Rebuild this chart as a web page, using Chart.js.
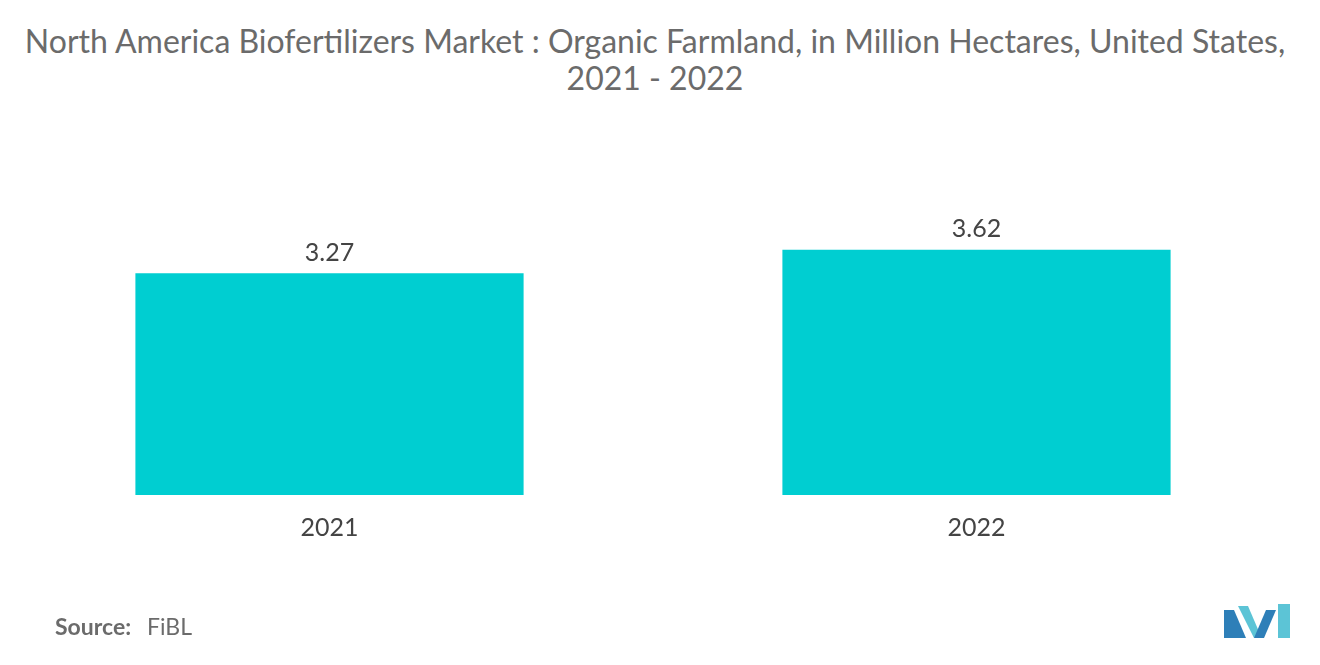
<!DOCTYPE html>
<html>
<head>
<meta charset="utf-8">
<script src="https://cdn.jsdelivr.net/npm/chart.js@4/dist/chart.umd.min.js"></script>
<style>
  body { margin: 0; width: 1320px; height: 665px; background: #fff; font-family: Lato, "Open Sans", sans-serif; overflow: hidden; }
  #title { position: absolute; top: 22px; left: 0; width: 1310px; text-align: center; color: #6b6b6b; font-size: 32px; line-height: 37px; }
  #wrap { position: absolute; left: 0; top: 0; width: 1320px; height: 665px; }
  #source { position: absolute; left: 55px; top: 612px; font-size: 23px; color: #6b6b6b; }
  #source b { font-weight: 700; margin-right: 10px; }
  #logo { position: absolute; left: 1224px; top: 604px; }
</style>
</head>
<body>
<div id="title">North America Biofertilizers Market : Organic Farmland, in Million Hectares, United States,<br>2021 - 2022</div>
<div id="wrap"><canvas id="chart" width="1320" height="665"></canvas></div>
<div id="source"><b>Source:</b> FiBL</div>
<svg id="logo" width="66" height="34" viewBox="0 0 66 34">
  <polygon points="0,34 0,6 10,6 22,34" fill="#2e7fb8"/>
  <polygon points="14,2 24,2 36,30 30,34" fill="#5cc4d6"/>
  <polygon points="30,34 42,6 52,6 40,34" fill="#2e7fb8"/>
  <polygon points="54,0 66,0 66,34 54,34" fill="#5cc4d6"/>
</svg>
<script>
const categories = ['2021', '2022'];
const values = [3.27, 3.62];

const valueLabels = {
  id: 'valueLabels',
  afterDatasetsDraw(chart) {
    const ctx = chart.ctx;
    ctx.save();
    ctx.font = '25px Lato, "Open Sans", sans-serif';
    ctx.fillStyle = '#444';
    ctx.textAlign = 'center';
    ctx.textBaseline = 'bottom';
    chart.getDatasetMeta(0).data.forEach((bar, i) => {
      ctx.fillText(values[i].toFixed(2), bar.x, bar.y - 8);
    });
    ctx.restore();
  }
};

new Chart(document.getElementById('chart'), {
  type: 'bar',
  data: {
    labels: categories,
    datasets: [{
      data: values,
      backgroundColor: '#00CED1',
      categoryPercentage: 0.6,
      barPercentage: 1.0
    }]
  },
  options: {
    responsive: false,
    animation: false,
    devicePixelRatio: 1,
    layout: { padding: { left: 6, right: 20, top: 190, bottom: 112 } },
    plugins: { legend: { display: false }, tooltip: { enabled: false } },
    scales: {
      x: {
        grid: { display: false },
        border: { display: false },
        ticks: { color: '#444', font: { size: 25, family: 'Lato' }, padding: 10 }
      },
      y: {
        display: false,
        min: 0,
        max: 4.5
      }
    }
  },
  plugins: [valueLabels]
});
</script>
</body>
</html>
